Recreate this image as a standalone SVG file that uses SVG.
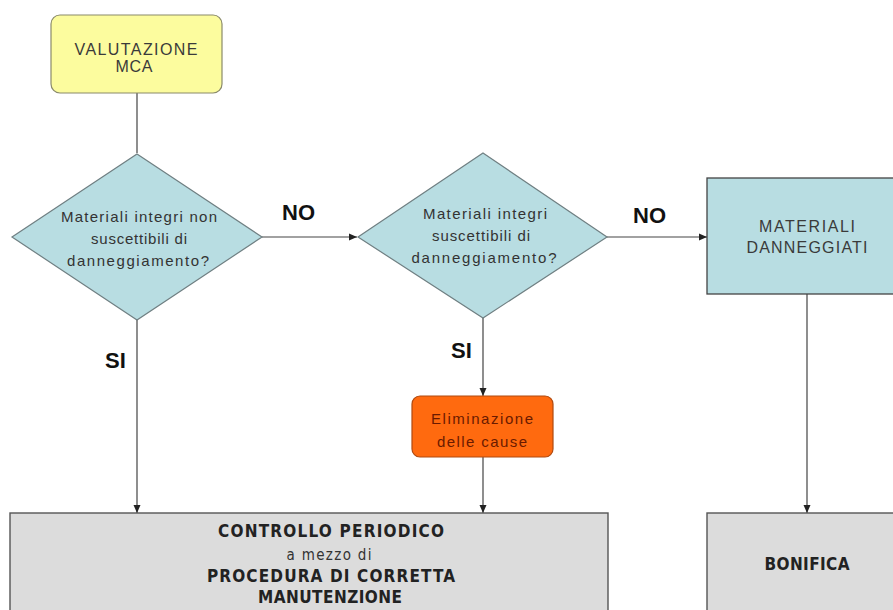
<svg xmlns="http://www.w3.org/2000/svg" width="893" height="610" viewBox="0 0 893 610">
<style>
.t{font-family:"Liberation Sans",Arial,sans-serif;font-size:15px;fill:#333;text-anchor:middle}
.t16{font-family:"Liberation Sans",Arial,sans-serif;font-size:16px;fill:#3a3a3a;text-anchor:middle}
.lab{font-family:"Liberation Sans",Arial,sans-serif;font-size:22px;font-weight:bold;fill:#111}
.b{font-family:"DejaVu Sans Condensed","Liberation Sans",sans-serif;font-stretch:condensed;font-size:17px;font-weight:bold;fill:#222;text-anchor:middle}
.n{font-family:"DejaVu Sans Condensed","Liberation Sans",sans-serif;font-stretch:condensed;font-size:15px;fill:#333;text-anchor:middle}
.dia{fill:#b8dde2;stroke:#6f7f82;stroke-width:1.2}
.box{fill:#b8dde2;stroke:#444;stroke-width:1.3}
.gray{fill:#dcdcdc;stroke:#555;stroke-width:1.4}
.line{stroke:#444;stroke-width:1.2;fill:none}
</style>
<defs>
<marker id="ah" markerWidth="10" markerHeight="10" refX="9" refY="5" orient="auto" markerUnits="userSpaceOnUse">
<path d="M1,1.5 L9,5 L1,8.5 Z" fill="#222"/>
</marker>
</defs>
<rect width="893" height="610" fill="#fff"/>
<g id="connectors">
<path class="line" d="M137,93 V153"/>
<path class="line" d="M262,237 H357" marker-end="url(#ah)"/>
<path class="line" d="M607,237 H707" marker-end="url(#ah)"/>
<path class="line" d="M137,320 V513" marker-end="url(#ah)"/>
<path class="line" d="M483,318 V396" marker-end="url(#ah)"/>
<path class="line" d="M483,457 V513" marker-end="url(#ah)"/>
<path class="line" d="M807,294 V513" marker-end="url(#ah)"/>
<text class="lab" x="282" y="220">NO</text>
<text class="lab" x="633" y="223">NO</text>
<text class="lab" x="105" y="368">SI</text>
<text class="lab" x="451" y="358">SI</text>
</g>
<g id="valutazione">
<rect x="51" y="15" width="171" height="78" rx="9" fill="#fcfc9e" stroke="#8a8a6a" stroke-width="1.2"/>
<text class="t16" x="136" y="55" textLength="123" lengthAdjust="spacing">VALUTAZIONE</text>
<text class="t16" x="134" y="72" textLength="37" lengthAdjust="spacing">MCA</text>
</g>
<g id="decisione1">
<polygon class="dia" points="137,154 262,237 137,320 12,237"/>
<text class="t" x="139" y="222" textLength="156" lengthAdjust="spacing">Materiali integri non</text>
<text class="t" x="139" y="244" textLength="96" lengthAdjust="spacing">suscettibili di</text>
<text class="t" x="138" y="266" textLength="142" lengthAdjust="spacing">danneggiamento?</text>
</g>
<g id="decisione2">
<polygon class="dia" points="483,153 607,237 483,318 358,237"/>
<text class="t" x="485" y="219" textLength="124" lengthAdjust="spacing">Materiali integri</text>
<text class="t" x="481" y="241" textLength="98" lengthAdjust="spacing">suscettibili di</text>
<text class="t" x="484" y="263" textLength="145" lengthAdjust="spacing">danneggiamento?</text>
</g>
<g id="danneggiati">
<rect class="box" x="707" y="178" width="200" height="116"/>
<text class="t16" x="807" y="232" textLength="96" lengthAdjust="spacing">MATERIALI</text>
<text class="t16" x="807" y="253" textLength="121" lengthAdjust="spacing">DANNEGGIATI</text>
</g>
<g id="eliminazione">
<rect x="412" y="396" width="141" height="61" rx="8" fill="#ff6a0f" stroke="#b04a10" stroke-width="1.2"/>
<text class="t" x="482" y="424" textLength="102" lengthAdjust="spacing" style="fill:#6a1a00">Eliminazione</text>
<text class="t" x="482" y="447" textLength="90" lengthAdjust="spacing" style="fill:#6a1a00">delle cause</text>
</g>
<g id="controllo">
<rect class="gray" x="10" y="513" width="598" height="110"/>
<text class="b" x="331" y="537" textLength="226" lengthAdjust="spacing">CONTROLLO PERIODICO</text>
<text class="n" x="329" y="560" textLength="85" lengthAdjust="spacing">a mezzo di</text>
<text class="b" x="331" y="582" textLength="248" lengthAdjust="spacing">PROCEDURA DI CORRETTA</text>
<text class="b" x="330" y="603" textLength="144" lengthAdjust="spacing">MANUTENZIONE</text>
</g>
<g id="bonifica">
<rect class="gray" x="707" y="513" width="200" height="110"/>
<text class="b" x="807" y="570" textLength="85" lengthAdjust="spacing">BONIFICA</text>
</g>
</svg>
